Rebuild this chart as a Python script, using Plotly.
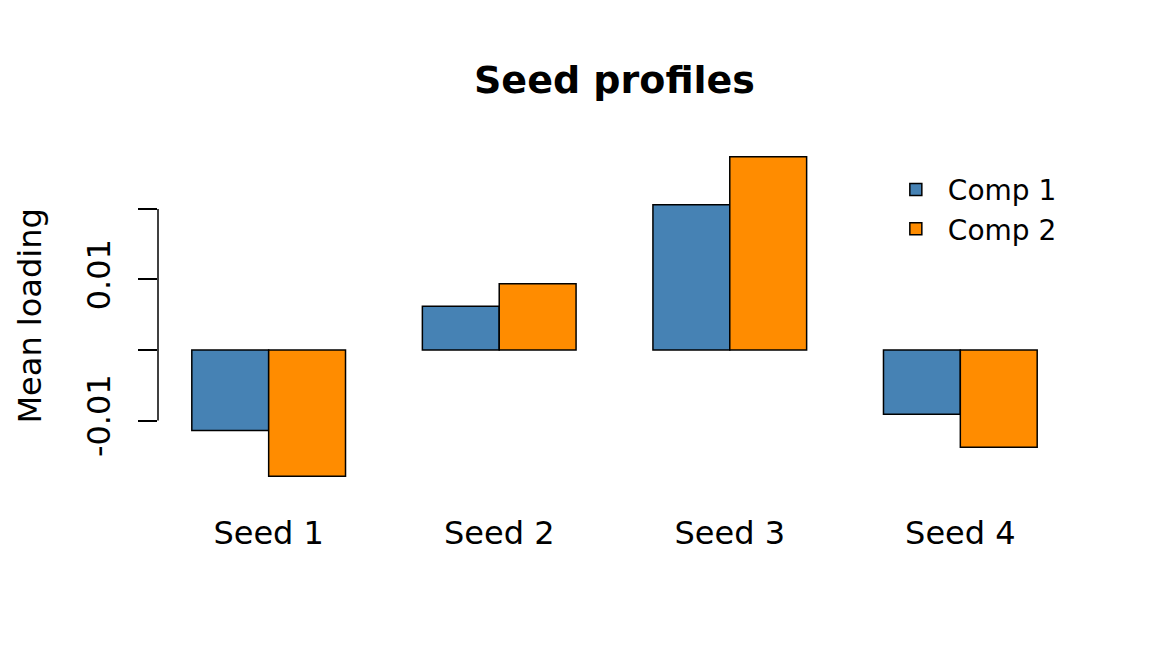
import plotly.graph_objects as go

seeds = ["Seed 1", "Seed 2", "Seed 3", "Seed 4"]
comp1 = [-0.0114, 0.0062, 0.0206, -0.0091]
comp2 = [-0.0179, 0.0094, 0.0274, -0.0138]
tick_vals = [-0.01, 0.0, 0.01, 0.02]
tick_text = ["-0.01", "", "0.01", ""]

FONT = "DejaVu Sans"

# R-style 4% padding around the data range (zero included)
lo = min(min(comp1), min(comp2), 0)
hi = max(max(comp1), max(comp2), 0)
pad = 0.04 * (hi - lo)

fig = go.Figure()
fig.add_trace(go.Bar(x=seeds, y=comp1, name="Comp 1",
                     marker=dict(color="#4682B4", line=dict(color="black", width=1.5))))
fig.add_trace(go.Bar(x=seeds, y=comp2, name="Comp 2",
                     marker=dict(color="#FF8C00", line=dict(color="black", width=1.5))))

# R draws the axis line only across the tick range
fig.add_shape(type="line", xref="paper", yref="y",
              x0=0, x1=0, y0=min(tick_vals), y1=max(tick_vals),
              line=dict(color="black", width=1.5))

fig.add_annotation(text="Mean loading", textangle=-90,
                   xref="paper", yref="paper", x=0, y=0.5,
                   xanchor="center", yanchor="middle", xshift=-129,
                   showarrow=False, font=dict(family=FONT, size=32, color="black"))

# page body adds an 8px offset, so the figure is 8px smaller each way
W, H = 1144, 664
fig.update_layout(
    width=W, height=H,
    paper_bgcolor="white", plot_bgcolor="white",
    margin=dict(l=150, r=81, t=136, b=183),
    barmode="group", bargap=1/3, bargroupgap=0,
    font=dict(family=FONT, size=32, color="black"),
    title=dict(text="<b>Seed profiles</b>", x=0.5, xref="paper",
               y=1 - 72/H, yref="container", yanchor="middle",
               font=dict(family=FONT, size=38, color="black")),
    legend=dict(x=0.795, y=0.94, xanchor="left", yanchor="top",
                bgcolor="rgba(0,0,0,0)", borderwidth=0, itemwidth=54,
                font=dict(family=FONT, size=28, color="black")),
    showlegend=True,
)
fig.update_xaxes(range=[-0.48, 3.48], showline=False, showgrid=False,
                 zeroline=False, ticks="", ticklabelstandoff=22)
fig.update_yaxes(range=[lo - pad, hi + pad], showline=False, showgrid=False,
                 zeroline=False, tickmode="array", tickvals=tick_vals,
                 ticktext=tick_text, ticks="outside", ticklen=19, tickwidth=1.5,
                 tickcolor="black", tickangle=-90, ticklabelstandoff=15)

fig.write_html("out.html")
